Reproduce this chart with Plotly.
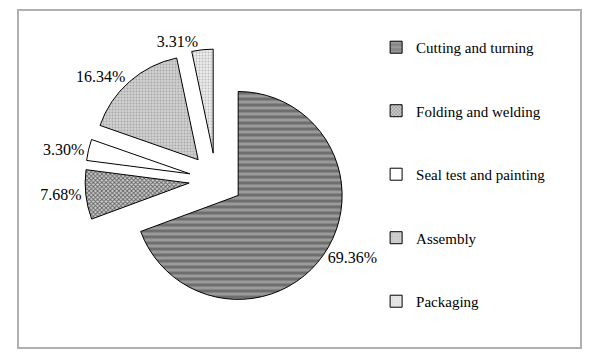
import plotly.graph_objects as go

categories = ["Cutting and turning", "Folding and welding", "Seal test and painting", "Assembly", "Packaging"]
shares = [69.36, 7.68, 3.30, 16.34, 3.31]
share_labels = ["69.36%", "7.68%", "3.30%", "16.34%", "3.31%"]

bg_colors = ["#9a9a9a", "#cfcfcf", "#ffffff", "#d2d2d2", "#ebebeb"]
fg_colors = ["#6e6e6e", "#606060", "#ffffff", "#a8a8a8", "#bdbdbd"]
shapes_p = ["-", "x", "", ".", "."]
sizes_p = [6, 3, 4, 3, 3]
solid_p = [0.5, 0.5, 0.3, 0.35, 0.3]

FONT = "Liberation Serif, Times New Roman, serif"

fig = go.Figure()
fig.add_trace(go.Pie(
    labels=categories,
    values=shares,
    text=share_labels,
    textinfo="text",
    textposition="outside",
    sort=False,
    direction="clockwise",
    rotation=0,
    pull=[0.26] * len(shares),
    showlegend=False,
    automargin=False,
    marker=dict(
        colors=bg_colors,
        line=dict(color="#000000", width=1),
        pattern=dict(shape=shapes_p, fgcolor=fg_colors, bgcolor=bg_colors,
                     size=sizes_p, solidity=solid_p),
    ),
    textfont=dict(family=FONT, size=16, color="#000000"),
    domain=dict(x=[0.1424, 0.5812], y=[0.136, 0.864]),
))

for i, c in enumerate(categories):
    fig.add_trace(go.Bar(
        x=[None], y=[None], name=c, legendgroup=c, showlegend=True,
        marker=dict(color=bg_colors[i], line=dict(color="#000000", width=1),
                    pattern=dict(shape=shapes_p[i], fgcolor=fg_colors[i], bgcolor=bg_colors[i],
                                 size=sizes_p[i], solidity=solid_p[i])),
    ))

fig.update_layout(
    width=597, height=360,
    margin=dict(l=0, r=0, t=0, b=0, autoexpand=False),
    paper_bgcolor="#ffffff", plot_bgcolor="#ffffff",
    xaxis=dict(visible=False), yaxis=dict(visible=False),
    font=dict(family=FONT, size=15, color="#000000"),
    legend=dict(x=0.63, y=0.914, xanchor="left", yanchor="top",
                tracegroupgap=41, itemwidth=30,
                font=dict(family=FONT, size=15, color="#000000"),
                bgcolor="rgba(0,0,0,0)"),
    shapes=[dict(type="rect", xref="paper", yref="paper",
                 x0=18/597, x1=581/597, y0=1-348/360, y1=1-10/360,
                 line=dict(color="#b0b0b0", width=2), fillcolor="rgba(0,0,0,0)", layer="below")],
)

fig.write_html("out.html", config={"displayModeBar": False},
               post_script="document.body.style.margin='0';")
